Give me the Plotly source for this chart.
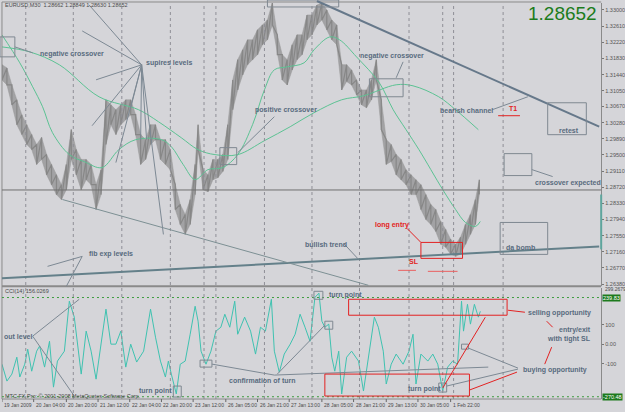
import plotly.graph_objects as go

W, H = 625, 412

# ---------------- data ----------------
bar_x = [2, 7, 12, 17, 22, 27, 32, 37, 42, 47, 52, 57, 62, 67, 72, 77, 82, 87, 92, 97,
         102, 107, 112, 117, 122, 127, 132, 137, 142, 147, 152, 157, 162, 167, 172, 177, 182, 187, 192, 197,
         200, 205, 210, 215, 220, 225, 230, 235, 240, 245, 250, 255, 260, 265, 270, 275, 280, 285, 290, 295,
         300, 305, 310, 315, 320, 325, 330, 335, 340, 345, 350, 355, 360, 365, 370, 375, 380, 385, 390, 395,
         400, 405, 410, 415, 420, 425, 430, 435, 440, 445, 450, 455, 460, 465, 470, 475, 480, 484]
bar_high = [1.3168, 1.3160, 1.3119, 1.3083, 1.3047, 1.3023, 1.2999, 1.2975, 1.2992, 1.2951,
            1.2927, 1.2902, 1.2878, 1.2927, 1.3011, 1.2963, 1.2939, 1.2939, 1.2927, 1.2878,
            1.2914, 1.3083, 1.3071, 1.3059, 1.3071, 1.3083, 1.3083, 1.3047, 1.2999, 1.2987,
            1.3023, 1.3023, 1.2987, 1.2987, 1.2963, 1.2878, 1.2830, 1.2806, 1.2842, 1.2927,
            1.3023, 1.2914, 1.2902, 1.2939, 1.2939, 1.2951, 1.3023, 1.3131, 1.3180, 1.3204,
            1.3228, 1.3228, 1.3252, 1.3264, 1.3276, 1.3317, 1.3240, 1.3192, 1.3180, 1.3216,
            1.3240, 1.3240, 1.3288, 1.3288, 1.3312, 1.3317, 1.3300, 1.3276, 1.3264, 1.3168,
            1.3168, 1.3155, 1.3131, 1.3107, 1.3107, 1.3131, 1.3180, 1.3083, 1.2987, 1.2975,
            1.2951, 1.2939, 1.2914, 1.2902, 1.2890, 1.2878, 1.2854, 1.2830, 1.2818, 1.2789,
            1.2770, 1.2746, 1.2734, 1.2751, 1.2782, 1.2806, 1.2842, 1.2890]
bar_low = [1.3131, 1.3119, 1.3071, 1.3023, 1.2999, 1.2975, 1.2963, 1.2927, 1.2939, 1.2902,
           1.2878, 1.2854, 1.2842, 1.2866, 1.2939, 1.2902, 1.2866, 1.2890, 1.2878, 1.2818,
           1.2854, 1.2975, 1.3023, 1.2999, 1.3023, 1.3035, 1.3047, 1.2999, 1.2927, 1.2939,
           1.2975, 1.2987, 1.2939, 1.2927, 1.2914, 1.2818, 1.2782, 1.2758, 1.2782, 1.2854,
           1.2963, 1.2866, 1.2861, 1.2890, 1.2895, 1.2910, 1.2939, 1.3059, 1.3107, 1.3143,
           1.3168, 1.3180, 1.3192, 1.3216, 1.3228, 1.3264, 1.3192, 1.3131, 1.3119, 1.3155,
           1.3180, 1.3192, 1.3228, 1.3240, 1.3264, 1.3276, 1.3252, 1.3228, 1.3216, 1.3107,
           1.3127, 1.3119, 1.3095, 1.3071, 1.3064, 1.3083, 1.3131, 1.3011, 1.2927, 1.2934,
           1.2902, 1.2890, 1.2878, 1.2854, 1.2854, 1.2818, 1.2794, 1.2782, 1.2765, 1.2734,
           1.2727, 1.2710, 1.2705, 1.2710, 1.2734, 1.2758, 1.2782, 1.2854]
last_close = 1.28652
ohlc_text = "EURUSD,M30  1.28662 1.28849 1.28630 1.28652"

ma_fast_x = [2, 20, 33, 43, 53, 70, 85, 103, 120, 137, 163, 173, 185, 197, 210, 225, 240, 255,
             267, 277, 290, 307, 317, 333, 343, 360, 383, 397, 410, 423, 447, 460, 470, 480, 485]
ma_fast = [1.32398, 1.31723, 1.31144, 1.30662, 1.30036, 1.29506, 1.29337, 1.29193, 1.29626,
           1.29867, 1.29867, 1.29698, 1.29265, 1.28903, 1.29144, 1.29193, 1.29506, 1.30229,
           1.31072, 1.31554, 1.31626, 1.31723, 1.32036, 1.32349, 1.32277, 1.31867, 1.31241,
           1.30590, 1.30108, 1.29626, 1.28662, 1.28180, 1.27867, 1.27770, 1.27891]
ma_slow_x = [2, 30, 60, 100, 140, 160, 183, 200, 217, 240, 267, 293, 317, 345, 367, 400, 417,
             443, 460, 483]
ma_slow = [1.32108, 1.31988, 1.31675, 1.30903, 1.30590, 1.30301, 1.29915, 1.29626, 1.29506,
           1.29506, 1.29843, 1.30180, 1.30518, 1.30831, 1.30927, 1.31193, 1.31168, 1.30903,
           1.30590, 1.30108]

cci_x = [2, 7, 12, 17, 20, 25, 28, 32, 37, 40, 45, 50, 54, 58, 65, 70, 75, 78, 82, 87, 92, 97,
         102, 107, 112, 117, 122, 127, 132, 138, 145, 152, 157, 162, 167, 170, 173, 178, 182, 187,
         192, 197, 200, 203, 208, 213, 218, 223, 227, 232, 237, 240, 247, 253, 258, 263, 268, 274,
         277, 282, 287, 293, 298, 303, 308, 313, 318, 322, 325, 328, 332, 335, 338, 342, 345, 350,
         355, 362, 367, 372, 378, 382, 387, 390, 395, 400, 407, 413, 417, 420, 425, 432, 437, 442,
         447, 452, 457, 462, 466, 468, 472, 475, 479, 483, 485]
cci_vals = [-103, -190, -154, -67, -169, -103, -26, -139, -36, -10, -118, 15, -221, -87, -36,
            221, 139, 0, -154, 67, -36, -180, 0, 180, 0, 0, 67, -118, 0, -92, -36, 180, 36, -87,
            -169, -87, -154, -256, -103, -87, 51, 195, 118, -36, -103, -36, 67, 87, 154, 87, 221,
            51, 139, 67, -51, 87, 67, 231, -36, -144, -51, 0, 51, 154, 87, 15, 241, 262, 118, 87,
            103, -67, -139, -36, -256, -67, -36, -87, -241, -67, 139, 87, -36, -205, -103, -51,
            -103, -36, 51, -205, -51, -87, -51, -103, -241, -118, -87, -103, 221, 67, 205, 103,
            205, 139, 169]
cci_title = "CCI(14) 156.0269"
cci_levels = [239.83, -270.48]
cci_level_text = ["239.83", "-270.48"]
cci_tick_vals = [100, 0, -100]
cci_tick_text = ["100", "0.00", "-100"]

price_ticks = [1.33000, 1.32610, 1.32220, 1.31830, 1.31440, 1.31050, 1.30670, 1.30280, 1.29890,
               1.29500, 1.29110, 1.28720, 1.28330, 1.27940, 1.27550, 1.27160, 1.26770, 1.26380]

time_tick_x = [2, 34, 67, 99, 131, 163, 195, 228, 260, 292, 325, 357, 390, 422, 455]
time_tick_labels = ["19 Jan 2009", "20 Jan 04:00", "20 Jan 20:00", "21 Jan 12:00", "22 Jan 04:00",
                    "22 Jan 20:00", "23 Jan 12:00", "26 Jan 05:00", "26 Jan 21:00", "27 Jan 13:00",
                    "28 Jan 05:00", "28 Jan 21:00", "29 Jan 13:00", "30 Jan 05:00", "1 Feb 22:00"]
grid_x = [26, 74, 123, 172, 206, 218, 267, 315, 363, 413, 447, 458, 508]

# ---------------- helpers (pixel -> paper) ----------------
def px(x):
    return x / W

def py(y):
    return 1 - y / H

BG = "#d5d5d9"
NOTE = "#586b7e"
RED = "#e32222"
LINEC = "#7d8994"
FONT = "Liberation Sans"

fig = go.Figure()

# price bars: band + zigzag of high/low
zig_x, zig_y = [], []
for bx, bh, bl in zip(bar_x, bar_high, bar_low):
    zig_x += [bx, bx]
    zig_y += [bh, bl]
fig.add_trace(go.Scatter(x=bar_x, y=bar_low, mode="lines", line=dict(color="#9a9a9a", width=0.5),
                         hoverinfo="skip", showlegend=False))
fig.add_trace(go.Scatter(x=bar_x, y=bar_high, mode="lines", line=dict(color="#9a9a9a", width=0.5),
                         fill="tonexty", fillcolor="#a2a2a4", hoverinfo="skip", showlegend=False))
fig.add_trace(go.Scatter(x=zig_x, y=zig_y, mode="lines", line=dict(color="#878787", width=1.2),
                         hoverinfo="skip", showlegend=False))
fig.add_trace(go.Scatter(x=ma_slow_x, y=ma_slow, mode="lines", line=dict(color="#5cc293", width=1),
                         line_shape="spline", showlegend=False))
fig.add_trace(go.Scatter(x=ma_fast_x, y=ma_fast, mode="lines", line=dict(color="#5cc293", width=1),
                         line_shape="spline", showlegend=False))
fig.add_trace(go.Scatter(x=cci_x, y=cci_vals, mode="lines", line=dict(color="#3fc2b0", width=1),
                         yaxis="y2", showlegend=False))

shapes = []

def seg(x0, y0, x1, y1, color=LINEC, width=1, dash=None):
    d = dict(type="line", xref="paper", yref="paper", x0=px(x0), y0=py(y0), x1=px(x1), y1=py(y1),
             line=dict(color=color, width=width))
    if dash:
        d["line"]["dash"] = dash
    shapes.append(d)

def box(x0, y0, x1, y1, color="#7f8891", width=1):
    shapes.append(dict(type="rect", xref="paper", yref="paper", x0=px(x0), y0=py(y0), x1=px(x1),
                       y1=py(y1), line=dict(color=color, width=width), fillcolor="rgba(0,0,0,0)"))

# grid
for gx in grid_x:
    shapes.append(dict(type="line", xref="x", yref="paper", x0=gx, x1=gx, y0=py(400), y1=py(3),
                       line=dict(color="#8e8e96", width=1, dash="3px,3px")))
# frames
seg(2, 2, 607, 2, "#8a8a8a", 1)
seg(2, 2, 2, 400, "#8a8a8a", 1)
seg(2, 287, 607, 287, "#8a8a8a", 2)
seg(2, 400, 607, 400, "#8a8a8a", 1)
# current price line
shapes.append(dict(type="line", xref="paper", yref="y", x0=px(2), x1=px(607), y0=last_close,
                   y1=last_close, line=dict(color="#707070", width=1)))
# CCI levels
for lv in cci_levels:
    shapes.append(dict(type="line", xref="paper", yref="y2", x0=px(2), x1=px(607), y0=lv, y1=lv,
                       line=dict(color="#3e9c3e", width=1, dash="2px,3px")))

# trend lines
seg(320, 1, 605, 127, "#66788a", 2)
seg(2, 279, 605, 247, "#64808a", 2)
seg(63, 200, 372, 286, "#7d9094", 1)
# right teal
seg(607, 195, 607, 250, "#5ea59d", 2)

# gray pointers
seg(15, 47, 33, 53)
for ex, ey in [(90, 5), (83, 31), (97, 80), (93, 126), (117, 163), (132, 108), (142, 140),
               (148, 140), (165, 235)]:
    seg(143, 65, ex, ey)
seg(277, 117, 240, 153)
seg(407, 62, 400, 78)
seg(497, 110, 533, 97)
seg(537, 170, 558, 177)
seg(347, 244, 362, 260)
seg(83, 257, 48, 267)
seg(83, 257, 67, 287)
seg(33, 337, 80, 300)
seg(33, 337, 75, 397)
seg(214, 365, 277, 376)
seg(277, 376, 493, 368)
seg(280, 375, 328, 326)
seg(523, 369, 473, 349)
seg(523, 370, 451, 387)

# boxes
box(0, 37, 15, 57)
box(270, 0, 342, 7)
box(222, 148, 239, 165)
box(373, 79, 407, 97)
box(553, 103, 592, 135)
box(509, 154, 537, 176)
box(505, 223, 553, 255)
box(175, 387, 183, 398)
box(202, 361, 214, 368)
box(317, 292, 326, 300)
box(328, 322, 336, 330)
box(466, 345, 473, 350)
box(443, 384, 451, 393)
box(425, 243, 467, 259, RED)
box(352, 300, 512, 316, RED)
box(328, 375, 474, 397, RED)

# red lines
seg(503, 116, 525, 116, RED)
seg(411, 229, 425, 243, RED)
seg(402, 271, 420, 271, "#ea6060")
seg(432, 272, 462, 272, "#ea6060")
seg(513, 311, 530, 313, RED)
seg(552, 322, 558, 328, RED)
seg(557, 348, 550, 365, RED)
seg(447, 389, 490, 318, RED)
seg(474, 391, 522, 373, RED)

annotations = []

def note(text, x, y, color=NOTE, size=7, bold=True, anchor="left"):
    t = f"<b>{text}</b>" if bold else text
    annotations.append(dict(text=t, x=px(x), y=py(y), xref="paper", yref="paper", showarrow=False,
                            xanchor=anchor, yanchor="middle",
                            font=dict(family=FONT, size=size, color=color)))

for t, x, y in [("negative crossover", 38, 54), ("supires levels", 145, 63),
                ("positive crossover", 255, 110), ("negative crossover", 361, 56),
                ("bearish channel", 442, 111), ("retest", 562, 131),
                ("crossover expected", 538, 183), ("bullish trend", 306, 245),
                ("fib exp levels", 88, 255), ("da bomb", 509, 248), ("turn point", 330, 296),
                ("selling opportunity", 531, 314), ("entry/exit", 562, 331),
                ("with tight SL", 550, 340), ("out level", 2, 337),
                ("buying opportunity", 526, 371), ("turn point", 410, 390),
                ("confirmation of turn", 229, 381), ("turn point", 138, 392)]:
    note(t, x, y)
for t, x, y in [("T1", 512, 109), ("long entry", 377, 226), ("SL", 411, 262)]:
    note(t, x, y, RED)

note(ohlc_text, 3, 5, "#4a4a4a", 5.5, False)
note(cci_title, 3, 292, "#4a4a4a", 5.5, False)
note("MTC FX Pro: © 2001-2008 MetaQuotes Software Corp.", 3, 397, "#4a4a4a", 5.5, False)
note(f"{last_close:.5f}", 605, 14, "#1c7c1c", 19, False, "right")
note("299.2679", 609, 290, "#4a4a4a", 5, False)

# x tick labels
for tx, tl in zip(time_tick_x, time_tick_labels):
    annotations.append(dict(text=tl, x=tx, y=py(406), xref="x", yref="paper", showarrow=False,
                            xanchor="left", yanchor="middle",
                            font=dict(family=FONT, size=5, color="#4a4a4a")))
    shapes.append(dict(type="line", xref="x", yref="paper", x0=tx, x1=tx, y0=py(400), y1=py(403),
                       line=dict(color="#666", width=1)))

# CCI level labels (green boxes)
for lv, lt in zip(cci_levels, cci_level_text):
    annotations.append(dict(text=lt, x=px(608), y=lv, xref="paper", yref="y2", showarrow=False,
                            xanchor="left", yanchor="middle", bgcolor="#1d7a1d", borderpad=0,
                            font=dict(family=FONT, size=5.5, color="white")))

fig.update_layout(
    width=W, height=H, margin=dict(l=0, r=0, t=0, b=0),
    paper_bgcolor=BG, plot_bgcolor=BG, showlegend=False,
    xaxis=dict(domain=[px(2), px(607)], range=[2, 607], showticklabels=False, showgrid=False,
               zeroline=False, showline=False, fixedrange=True),
    yaxis=dict(domain=[py(287), py(3)], range=[1.26325, 1.33169], side="right",
               tickvals=price_ticks, ticktext=[f"{v:.5f}" for v in price_ticks],
               tickfont=dict(family=FONT, size=5.5, color="#555"), ticks="outside", ticklen=2,
               tickcolor="#777", showgrid=False, zeroline=False, showline=True,
               linecolor="#8a8a8a", linewidth=1),
    yaxis2=dict(domain=[py(400), py(289)], range=[-282.2, 287.3], side="right", anchor="x",
                tickvals=cci_tick_vals, ticktext=cci_tick_text,
                tickfont=dict(family=FONT, size=5.5, color="#555"), ticks="outside", ticklen=2,
                tickcolor="#777", showgrid=False, zeroline=False, showline=True,
                linecolor="#8a8a8a", linewidth=1),
    shapes=shapes, annotations=annotations,
)

fig.write_html("out.html")
